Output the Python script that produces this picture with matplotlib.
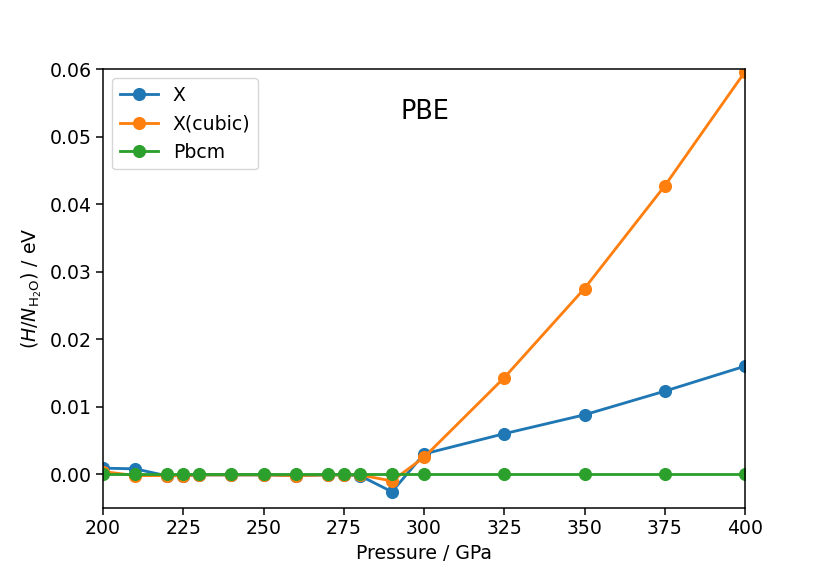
import matplotlib
matplotlib.use('Agg')
import matplotlib.pyplot as plt
import numpy as np

# pressures (GPa) shared by all three structures
pressure = [200, 210, 220, 225, 230, 240, 250, 260, 270, 275, 280, 290,
            300, 325, 350, 375, 400]

# enthalpy per H2O relative to Pbcm (eV)
h_x = [0.0009, 0.0008, -0.00025, -0.0002, -0.0001, -0.0001, -0.0001,
       -0.0002, -0.0001, -0.0001, -0.0002, -0.0026,
       0.0030, 0.0060, 0.0088, 0.0123, 0.0160]
h_xcubic = [0.0004, -0.0002, -0.0002, -0.0002, -0.0001, -0.0001, -0.0001,
            -0.0002, -0.0001, -0.0001, -0.0001, -0.0010,
            0.0025, 0.0143, 0.0275, 0.0427, 0.0596]
h_pbcm = [0.0] * len(pressure)

labels = ['X', 'X(cubic)', 'Pbcm']
xticks = [200, 225, 250, 275, 300, 325, 350, 375, 400]

s = 1.36  # scale from the original dpi
plt.rcParams['font.size'] = 10 * s
plt.rcParams['axes.linewidth'] = 0.8 * s
plt.rcParams['xtick.major.size'] = 3.5 * s
plt.rcParams['ytick.major.size'] = 3.5 * s
plt.rcParams['xtick.major.width'] = 0.8 * s
plt.rcParams['ytick.major.width'] = 0.8 * s

fig = plt.figure(figsize=(8.3, 5.81), dpi=100)
ax = fig.add_axes([103 / 830, 1 - 508 / 581, 642 / 830, 439 / 581])

for y, lab in zip([h_x, h_xcubic, h_pbcm], labels):
    ax.plot(pressure, y, '-o', label=lab, lw=1.5 * s, ms=6.2 * s)

ax.set_xlim(200, 400)
ax.set_ylim(-0.005, 0.06)
ax.set_xticks(xticks)
ax.set_yticks(np.arange(0, 0.061, 0.01))
ax.set_yticklabels([f'{v:.2f}' for v in np.arange(0, 0.061, 0.01)])
ax.set_xlabel('Pressure / GPa')
ax.set_ylabel(r'$(H/N_{\mathrm{H_2O}})$ / eV')
ax.text(300.3, 0.0536, 'PBE', fontsize=13.5 * s, ha='center', va='center')
ax.legend(loc='upper left')

fig.savefig('out.png', dpi=100)
